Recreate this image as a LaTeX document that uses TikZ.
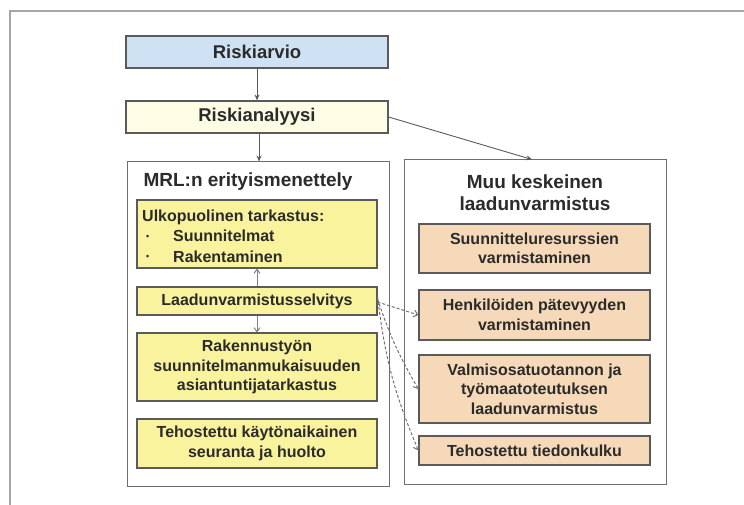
\documentclass[tikz,border=0pt]{standalone}
\usepackage{fontspec}
\setmainfont{Liberation Sans}
\usetikzlibrary{arrows.meta}
\definecolor{txt}{HTML}{2B2B2B}
\definecolor{blueF}{HTML}{CFE2F4}
\definecolor{creamF}{HTML}{FDFDE6}
\definecolor{yelF}{HTML}{F9F39E}
\definecolor{peachF}{HTML}{F5D9B8}
\definecolor{bordr}{HTML}{5A5A5A}
\definecolor{panelB}{HTML}{6E6E6E}
\newcommand{\smallbul}{\makebox[31pt][l]{\hspace{4pt}\raisebox{0.28ex}{\scalebox{0.55}{\textbullet}}}}
\begin{document}
\begin{tikzpicture}[x=1pt,y=-1pt,
  every node/.style={text=txt,font=\bfseries},
  topbox/.style={draw=bordr,line width=1.2pt,minimum width=262pt,minimum height=32pt,inner sep=0pt,font=\fontsize{18.5}{22}\bfseries},
  panel/.style={draw=panelB,line width=1pt,fill=white,minimum width=262pt,minimum height=324pt,inner sep=0pt},
  ybox/.style={draw=bordr,line width=1.1pt,fill=yelF,minimum width=240pt,inner sep=0pt,align=center,font=\fontsize{16}{19.5}\bfseries},
  pbox/.style={draw=bordr,line width=1.1pt,fill=peachF,minimum width=231pt,inner sep=0pt,align=center,font=\fontsize{16}{19.5}\bfseries},
  arr/.style={-{Stealth[length=6pt,width=5pt]},draw=bordr,line width=0.9pt},
  garr/.style={-{Straight Barb[length=4pt,width=6pt]},draw=gray,line width=1pt},
  darr/.style={-{Straight Barb[length=4pt,width=7pt]},draw=gray!90!black,line width=1pt,dash pattern=on 3pt off 2pt}
]
\useasboundingbox (0,0) rectangle (744,505);
\draw[gray!70,line width=2pt] (744,11) -- (10,11) -- (10,505);

\node[topbox,fill=blueF] (ra) at (257,52) {Riskiarvio};
\node[topbox,fill=creamF] (rn) at (257,117) {Riskianalyysi};

\node[panel] (lp) at (258,324) {};
\node[panel] (rp) at (535,322) {};

\node[anchor=west,font=\fontsize{19}{22}\bfseries] (lt) at (140,182) {MRL:n erityismenettely};
\node[align=center,font=\fontsize{19}{22}\bfseries] (rt) at (535,193) {Muu keskeinen\\laadunvarmistus};

\node[ybox,minimum height=68pt] (uk) at (257,234) {};
\node[anchor=west,align=left,font=\fontsize{16}{20.5}\bfseries,inner sep=0pt] (ukt) at (142,236)
  {Ulkopuolinen tarkastus:\\\smallbul Suunnitelmat\\\smallbul Rakentaminen};
\node[ybox,minimum height=28pt] (lv) at (257,301) {Laadunvarmistusselvitys};
\node[ybox,minimum height=68pt] (rk) at (257,367) {Rakennustyön\\suunnitelmanmukaisuuden\\asiantuntijatarkastus};
\node[ybox,minimum height=49pt] (th) at (257,443.5) {Tehostettu käytönaikainen\\seuranta ja huolto};

\node[pbox,minimum height=49pt] (sr) at (534.5,248.5) {Suunnitteluresurssien\\varmistaminen};
\node[pbox,minimum height=50pt] (hp) at (534.5,315) {Henkilöiden pätevyyden\\varmistaminen};
\node[pbox,minimum height=68pt] (vm) at (534.5,389) {Valmisosatuotannon ja\\työmaatoteutuksen\\laadunvarmistus};
\node[pbox,minimum height=29pt] (tk) at (534.5,450.5) {Tehostettu tiedonkulku};

\draw[arr] (ra.south) -- (rn.south |- rn.north);
\draw[arr] ([xshift=2pt]rn.south) -- ([xshift=1pt]lp.north);
\draw[arr] (rn.east) -- ([xshift=-3pt]rp.north);

\draw[garr] (lv.north) -- (uk.south);
\draw[garr] (lv.south) -- (rk.north);

\draw[darr] ([yshift=-1pt]lv.east) -- (hp.west);
\draw[darr] ([yshift=2pt]lv.east) to[bend right=6] (vm.west);
\draw[darr] ([yshift=4pt]lv.east) to[bend right=8] (tk.west);
\end{tikzpicture}
\end{document}
